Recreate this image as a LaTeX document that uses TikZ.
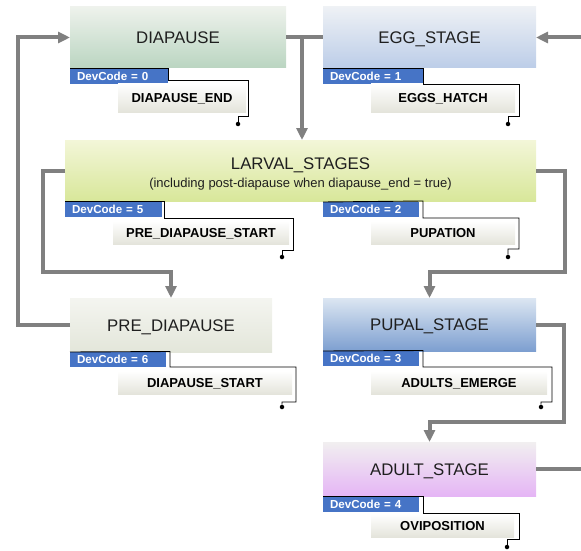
\documentclass[tikz,border=0pt]{standalone}
\usepackage{fontspec}
\setmainfont{Liberation Sans}
\usetikzlibrary{arrows.meta}

\definecolor{flowgray}{RGB}{128,128,128}
\definecolor{codeblue}{RGB}{70,116,198}
\definecolor{evgray}{RGB}{228,228,219}
\definecolor{diaT}{RGB}{238,242,236}
\definecolor{diaB}{RGB}{186,213,193}
\definecolor{eggT}{RGB}{238,241,245}
\definecolor{eggB}{RGB}{188,205,232}
\definecolor{larvT}{RGB}{243,246,216}
\definecolor{larvB}{RGB}{216,231,154}
\definecolor{preT}{RGB}{244,245,240}
\definecolor{preB}{RGB}{227,230,218}
\definecolor{pupT}{RGB}{220,230,242}
\definecolor{pupB}{RGB}{125,159,208}
\definecolor{adultT}{RGB}{241,239,240}
\definecolor{adultB}{RGB}{229,181,245}

\begin{document}
\begin{tikzpicture}[x=1pt,y=-1pt,
  stagebox/.style={rectangle, inner sep=0pt, outer sep=0pt, anchor=north west,
    font=\fontsize{16.8}{20}\selectfont, text=black!88, text height=12pt, text depth=0pt},
  codetab/.style={rectangle, fill=codeblue, anchor=north west, inner xsep=7pt, inner ysep=0pt,
    outer sep=0pt, minimum height=15pt, text=white, align=left,
    font=\bfseries\fontsize{11.6}{12}\selectfont, text height=8.3pt, text depth=0pt},
  eventbox/.style={rectangle, anchor=north west, top color=white, bottom color=evgray,
    inner sep=0pt, outer sep=0pt, text=black,
    font=\bfseries\fontsize{13}{14}\selectfont, text height=9.3pt, text depth=0pt},
  evline/.style={black, line width=0.9pt},
  evdot/.style={circle, fill=black, inner sep=0pt, minimum size=4.5pt},
  flow/.style={flowgray, line width=4pt},
  flowarrow/.style={flow, -{Triangle[length=12pt,width=11pt]}}
]
\useasboundingbox (0,0) rectangle (581,551);
\clip (0,0) rectangle (581,551);

% stage boxes
\node[stagebox, top color=diaT, bottom color=diaB, minimum width=216pt, minimum height=61pt]
  (dia) at (70,7) {DIAPAUSE};
\node[stagebox, top color=eggT, bottom color=eggB, minimum width=213pt, minimum height=61pt]
  (egg) at (323,7) {EGG\_STAGE};
\node[stagebox, top color=larvT, bottom color=larvB, minimum width=471pt, minimum height=61pt,
  align=center, text height=, text depth=]
  (larv) at (65,140) {\rule{0pt}{18.2pt}LARVAL\_STAGES\\[-2.5pt]{\fontsize{13}{14}\selectfont (including post-diapause when diapause\_end = true)}};
\node[stagebox, top color=preT, bottom color=preB, minimum width=202pt, minimum height=54pt]
  (pre) at (70,298) {PRE\_DIAPAUSE};
\node[stagebox, top color=pupT, bottom color=pupB, minimum width=213pt, minimum height=53pt]
  (pup) at (323,298) {PUPAL\_STAGE};
\node[stagebox, top color=adultT, bottom color=adultB, minimum width=213pt, minimum height=54pt]
  (adult) at (323,442) {ADULT\_STAGE};

% development code tabs
\node[codetab, text width=84pt] (dia-code) at (70,69) {DevCode = 0};
\node[codetab, text width=86pt] (egg-code) at (323,69) {DevCode = 1};
\node[codetab, text width=83pt] (larv-code5) at (65,202) {DevCode = 5};
\node[codetab, text width=82pt] (larv-code2) at (323,202) {DevCode = 2};
\node[codetab, text width=82pt] (pre-code) at (70,352) {DevCode = 6};
\node[codetab, text width=82pt] (pup-code) at (323,351) {DevCode = 3};
\node[codetab, text width=82pt] (adult-code) at (323,497) {DevCode = 4};

% event boxes
\node[eventbox, minimum width=128pt, minimum height=28pt] (dia-ev) at (118,84) {DIAPAUSE\_END};
\node[eventbox, minimum width=144pt, minimum height=28pt] (egg-ev) at (371,84) {EGGS\_HATCH};
\node[eventbox, minimum width=176pt, minimum height=23pt] (larv-ev5) at (113,221) {PRE\_DIAPAUSE\_START};
\node[eventbox, minimum width=144pt, minimum height=23pt] (larv-ev2) at (371,221) {PUPATION};
\node[eventbox, minimum width=174pt, minimum height=23pt] (pre-ev) at (118,371) {DIAPAUSE\_START};
\node[eventbox, minimum width=176pt, minimum height=23pt] (pup-ev) at (371,371) {ADULTS\_EMERGE};
\node[eventbox, minimum width=143pt, minimum height=23pt] (adult-ev) at (371,514) {OVIPOSITION};

% event terminals
\node[evdot] (dia-dot) at (238,124) {};
\node[evdot] (egg-dot) at (508,124) {};
\node[evdot] (larv-dot5) at (282,257) {};
\node[evdot] (larv-dot2) at (508,257) {};
\node[evdot] (pre-dot) at (282,407) {};
\node[evdot] (pup-dot) at (541,407) {};
\node[evdot] (adult-dot) at (507,547) {};

% event outlines
\draw[evline] (dia.south west) -- (168,68) -- (168,80) -- (248,80) -- (248,116) -- (238,116) -- (dia-dot);
\draw[evline] (egg.south west) -- (423,68) -- (423,84) -- (519,84) -- (519,116) -- (508,116) -- (egg-dot);
\draw[evline] (larv.south west) -- (164,201) -- (164,218) -- (293,218) -- (293,250) -- (282,250) -- (larv-dot5);
\draw[evline] (larv-code2.north west) -- (423,201) -- (423,218) -- (519,218) -- (519,249) -- (508,249) -- (larv-dot2);
\draw[evline] (pre.south west) -- (170,351.5) -- (170,367) -- (296,367) -- (296,402) -- (282,402) -- (pre-dot);
\draw[evline] (pup.south west) -- (423,350.5) -- (423,367) -- (552,367) -- (552,402) -- (541,402) -- (pup-dot);
\draw[evline] (adult.south west) -- (423,496) -- (423,513) -- (519,513) -- (519,539) -- (507,539) -- (adult-dot);

% stage transitions
\coordinate (split) at (302,37.5);
\coordinate (lbend) at (43,272);
\coordinate (rbend) at (565,272);
\coordinate (back) at (18,37.5);
\coordinate (pbend) at (564,422);
\coordinate (wrap) at (600,469);

\draw[flow] (dia.east) -- (egg.west);
\draw[flowarrow] (split) -- (split |- larv.north);
\draw[flowarrow] (larv.west) -| (lbend) -| (pre.north);
\draw[flowarrow] (larv.east) -| (rbend) -| (pup.north);
\draw[flowarrow] (pre.west) -| (back) -- (dia.west);
\draw[flowarrow] (pup.east) -| (pbend) -| (adult.north);
\draw[flowarrow] (adult.east) -- (adult.east -| wrap) |- (egg.east);
\end{tikzpicture}
\end{document}
